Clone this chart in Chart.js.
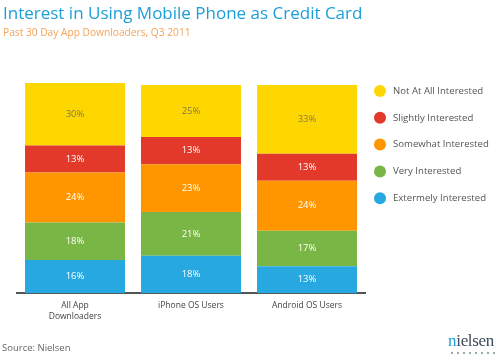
<!DOCTYPE html>
<html>
<head>
<meta charset="utf-8">
<script src="https://cdn.jsdelivr.net/npm/chart.js@4/dist/chart.umd.min.js"></script>
<style>
  html, body { margin: 0; padding: 0; background: #fff; }
  #wrap { position: relative; width: 498px; height: 355px; overflow: hidden; font-family: "Open Sans", sans-serif; }
  #c { position: absolute; left: 0; top: 0; }
  .title { position: absolute; left: 3px; top: 1px; font-size: 17px; color: #1c9fd9; white-space: nowrap; }
  .sub { position: absolute; left: 3px; top: 25px; font-size: 10.2px; color: #f4a35a; white-space: nowrap; }
  .src { position: absolute; left: 2px; top: 341px; font-size: 9.5px; color: #666; white-space: nowrap; }
  .logo { position: absolute; left: 448px; top: 331px; font-family: "Liberation Serif", serif; font-size: 17px; color: #3d4a5c; letter-spacing: -0.3px; }
  .logo span { color: #1c9fd9; }
  .logo .dots { position: absolute; left: 1px; top: 21px; width: 47px; height: 2px;
    background-image: radial-gradient(circle, #9aa 0.8px, transparent 1px); background-size: 6px 2px; }
</style>
</head>
<body>
<div id="wrap">
  <canvas id="c" width="498" height="355"></canvas>
  <div class="title">Interest in Using Mobile Phone as Credit Card</div>
  <div class="sub">Past 30 Day App Downloaders, Q3 2011</div>
  <div class="src">Source: Nielsen</div>
  <div class="logo"><span>n</span>ielsen<div class="dots"></div></div>
</div>
<script>
const categories = [["All App", "Downloaders"], "iPhone OS Users", "Android OS Users"];
const extremelyInterested = [16, 18, 13];
const veryInterested = [18, 21, 17];
const somewhatInterested = [24, 23, 24];
const slightlyInterested = [13, 13, 13];
const notAtAllInterested = [30, 25, 33];

const seriesNames = ["Extermely Interested", "Very Interested", "Somewhat Interested", "Slightly Interested", "Not At All Interested"];
const seriesColors = ["#27a8e0", "#7ab646", "#ff9600", "#e2392b", "#ffd700"];
const labelColors = ["#ffffff", "#ffffff", "#ffffff", "#ffffff", "#857a4a"];
const seriesValues = [extremelyInterested, veryInterested, somewhatInterested, slightlyInterested, notAtAllInterested];

const valueLabels = {
  id: "valueLabels",
  afterDatasetsDraw(chart) {
    const ctx = chart.ctx;
    ctx.save();
    ctx.font = "9.5px 'Open Sans', sans-serif";
    ctx.textAlign = "center";
    ctx.textBaseline = "middle";
    chart.data.datasets.forEach((ds, i) => {
      const meta = chart.getDatasetMeta(i);
      meta.data.forEach((el, j) => {
        ctx.fillStyle = labelColors[i];
        ctx.fillText(ds.data[j] + "%", el.x, (el.y + el.base) / 2);
      });
    });
    ctx.restore();
  }
};

// legend drawn from the chart's datasets (top item = last dataset)
const sideLegend = {
  id: "sideLegend",
  afterDraw(chart) {
    const ctx = chart.ctx;
    const ds = chart.data.datasets;
    ctx.save();
    ctx.font = "9.6px 'Open Sans', sans-serif";
    ctx.textAlign = "left";
    ctx.textBaseline = "middle";
    const x0 = chart.chartArea.right + 15;
    const y0 = chart.chartArea.top + 8;
    for (let k = 0; k < ds.length; k++) {
      const d = ds[ds.length - 1 - k];
      const y = y0 + k * 26.8;
      ctx.fillStyle = d.backgroundColor;
      ctx.beginPath();
      ctx.arc(x0, y, 6, 0, Math.PI * 2);
      ctx.fill();
      ctx.fillStyle = "#555";
      ctx.fillText(d.label, x0 + 13, y);
    }
    ctx.restore();
  }
};

new Chart(document.getElementById("c"), {
  type: "bar",
  data: {
    labels: categories,
    datasets: seriesValues.map((v, i) => ({
      label: seriesNames[i],
      data: v,
      backgroundColor: seriesColors[i],
      borderWidth: 0,
      barPercentage: 0.862,
      categoryPercentage: 1.0
    }))
  },
  options: {
    responsive: false,
    animation: false,
    layout: { padding: { left: 17, top: 83, bottom: 26, right: 133 } },
    plugins: {
      title: { display: false },
      tooltip: { enabled: false },
      legend: { display: false }
    },
    scales: {
      x: {
        stacked: true,
        grid: { display: false, drawTicks: false },
        border: { display: true, color: "#555", width: 2 },
        ticks: { color: "#444", font: { family: "'Open Sans', sans-serif", size: 8.5, lineHeight: 1.4 }, padding: 6 }
      },
      y: {
        stacked: true,
        display: false,
        min: 0,
        max: 101
      }
    }
  },
  plugins: [valueLabels, sideLegend]
});
</script>
</body>
</html>
